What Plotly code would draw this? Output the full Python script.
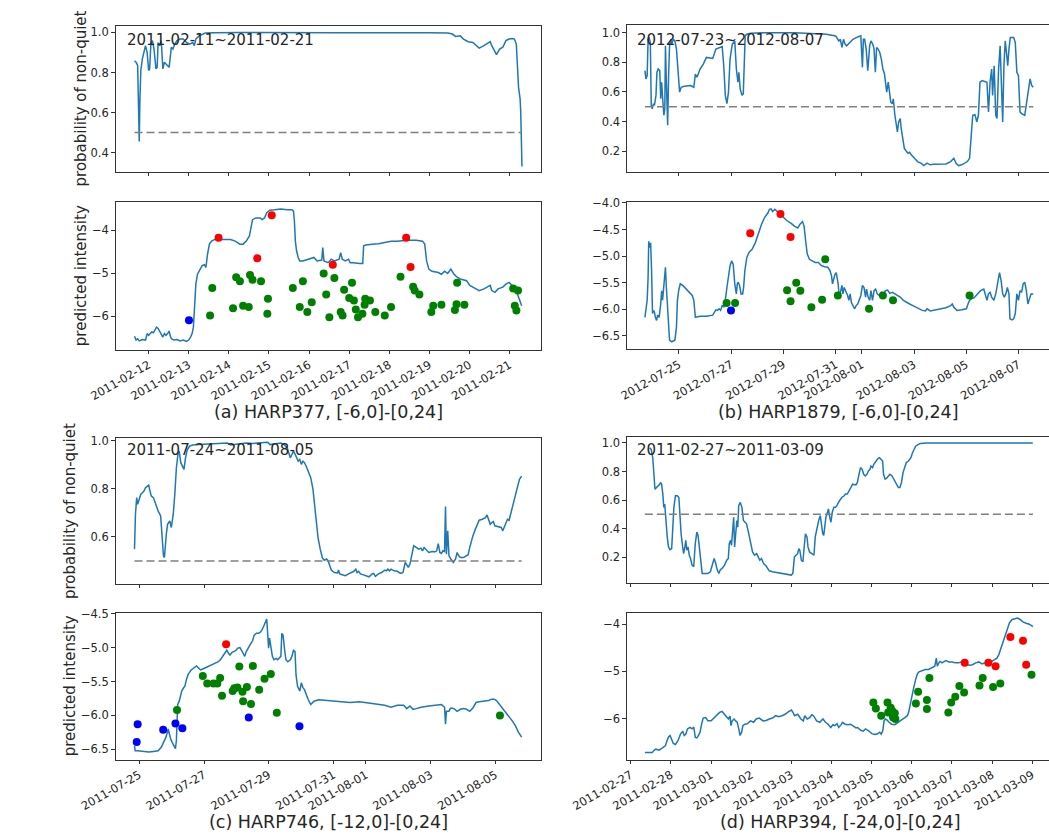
import pandas as pd
import plotly.graph_objects as go

FONT = "DejaVu Sans"
LINE_COLOR = "#1f77b4"
TEXT = "#262626"
AXIS = "#333333"

# ---------------- (a) HARP377 ----------------
a_start = "2011-02-11"
a_range_label = "2011-02-11~2011-02-21"
a_caption = "(a) HARP377, [-6,0]-[0,24]"
# (days since start, probability of non-quiet)
a_prob = [
    (0.647, 0.859), (0.686, 0.851), (0.725, 0.835), (0.749, 0.661), (0.765, 0.455),
    (0.780, 0.653), (0.804, 0.810), (0.843, 0.868), (0.882, 0.909), (0.921, 0.934),
    (0.961, 0.901), (1.000, 0.810), (1.024, 0.818), (1.055, 0.942), (1.094, 0.959),
    (1.133, 0.917), (1.181, 0.818), (1.212, 0.826), (1.235, 0.950), (1.275, 0.934),
    (1.314, 0.959), (1.353, 0.818), (1.392, 0.851), (1.432, 0.843), (1.471, 0.835),
    (1.510, 0.826), (1.534, 0.868), (1.565, 0.926), (1.604, 0.917), (1.651, 0.942),
    (1.706, 0.959), (1.785, 0.967), (1.863, 0.967), (1.942, 0.950), (2.020, 0.942),
    (2.099, 0.950), (2.138, 0.934), (2.177, 0.967), (2.256, 0.983), (2.413, 0.997),
    (2.648, 0.999), (3.276, 1.000), (5.631, 0.999), (7.206, 1.000), (7.986, 0.999),
    (8.457, 0.997), (8.575, 0.992), (8.653, 0.980), (8.771, 0.983), (8.850, 0.967),
    (8.967, 0.954), (9.085, 0.950), (9.242, 0.922), (9.360, 0.934), (9.517, 0.954),
    (9.556, 0.934), (9.674, 0.889), (9.752, 0.917), (9.831, 0.926), (9.909, 0.959),
    (9.988, 0.967), (10.066, 0.970), (10.121, 0.967), (10.168, 0.942), (10.223, 0.727),
    (10.262, 0.669), (10.278, 0.603), (10.309, 0.331),
]
# (days since start, predicted intensity)
a_int = [
    (0.647, -6.46), (0.686, -6.55), (0.725, -6.52), (0.765, -6.57), (0.843, -6.54),
    (0.921, -6.55), (0.961, -6.40), (1.000, -6.44), (1.039, -6.40), (1.078, -6.36),
    (1.118, -6.38), (1.157, -6.32), (1.196, -6.25), (1.235, -6.28), (1.275, -6.36),
    (1.314, -6.44), (1.353, -6.48), (1.392, -6.40), (1.432, -6.44), (1.471, -6.40),
    (1.510, -6.34), (1.534, -6.44), (1.565, -6.52), (1.628, -6.55), (1.706, -6.54),
    (1.785, -6.57), (1.863, -6.55), (1.942, -6.58), (1.997, -6.55), (2.044, -6.48),
    (2.083, -6.40), (2.115, -6.25), (2.146, -5.71), (2.177, -5.25), (2.217, -5.02),
    (2.271, -4.92), (2.334, -4.82), (2.389, -4.80), (2.428, -4.86), (2.468, -4.55),
    (2.515, -4.32), (2.570, -4.25), (2.648, -4.21), (2.727, -4.21), (2.884, -4.21),
    (3.041, -4.21), (3.158, -4.25), (3.276, -4.32), (3.355, -4.32), (3.433, -4.25),
    (3.512, -4.13), (3.590, -3.75), (3.669, -3.71), (3.786, -3.71), (3.826, -3.75),
    (3.889, -3.71), (3.944, -3.59), (4.022, -3.53), (4.140, -3.52), (4.297, -3.50),
    (4.454, -3.52), (4.571, -3.52), (4.611, -3.55), (4.634, -3.78), (4.658, -4.25),
    (4.689, -4.48), (4.728, -4.63), (4.768, -4.71), (4.846, -4.71), (5.003, -4.67),
    (5.121, -4.63), (5.199, -4.71), (5.317, -4.69), (5.341, -4.40), (5.372, -4.71),
    (5.474, -4.75), (5.553, -4.67), (5.631, -4.71), (5.749, -4.67), (5.788, -4.52),
    (5.827, -4.67), (5.906, -4.71), (5.984, -4.67), (6.024, -4.75), (6.102, -4.75),
    (6.259, -4.77), (6.338, -4.77), (6.361, -4.36), (6.416, -4.34), (6.573, -4.32),
    (6.730, -4.31), (6.887, -4.28), (7.044, -4.25), (7.201, -4.25), (7.436, -4.23),
    (7.672, -4.23), (7.829, -4.25), (7.884, -4.32), (7.931, -4.71), (7.986, -4.90),
    (8.064, -4.95), (8.221, -4.98), (8.300, -5.02), (8.378, -4.95), (8.457, -5.00),
    (8.535, -4.90), (8.614, -5.02), (8.692, -5.09), (8.771, -5.13), (8.928, -5.17),
    (9.007, -5.28), (9.163, -5.36), (9.242, -5.40), (9.360, -5.36), (9.438, -5.32),
    (9.517, -5.28), (9.556, -5.40), (9.635, -5.44), (9.713, -5.36), (9.831, -5.32),
    (9.909, -5.25), (9.988, -5.21), (10.066, -5.28), (10.144, -5.36), (10.223, -5.55),
    (10.301, -5.75),
]
a_red = [(2.743, -4.17), (4.069, -3.65), (3.708, -4.65), (5.592, -4.80), (7.421, -4.17), (7.531, -4.85)]
a_blue = [(2.005, -6.09)]
a_green = [
    (2.586, -5.34), (2.531, -5.98), (3.182, -5.09), (3.276, -5.18), (3.104, -5.81),
    (3.355, -5.75), (3.496, -5.78), (3.527, -5.04), (3.590, -5.15), (3.802, -5.18),
    (3.975, -5.59), (3.959, -5.94), (4.595, -5.34), (4.846, -5.18), (4.768, -5.78),
    (4.956, -5.90), (5.066, -5.67), (5.364, -5.00), (5.427, -5.49), (5.631, -5.11),
    (5.506, -6.02), (5.788, -5.90), (5.835, -5.98), (5.874, -5.38), (6.071, -5.22),
    (6.000, -5.57), (6.118, -5.63), (6.165, -5.84), (6.220, -6.02), (6.330, -5.94),
    (6.400, -5.59), (6.518, -5.63), (6.385, -5.73), (6.652, -5.90), (6.887, -5.98),
    (7.044, -5.78), (7.280, -5.08), (7.594, -5.31), (7.633, -5.40), (7.751, -5.49),
    (8.049, -5.90), (8.096, -5.75), (8.300, -5.73), (8.637, -5.85), (8.677, -5.72),
    (8.692, -5.22), (8.873, -5.73), (10.09, -5.35), (10.21, -5.40), (10.13, -5.75),
    (10.17, -5.86),
]
a_xticks = ["2011-02-%02d" % d for d in range(12, 22)]

# ---------------- (b) HARP1879 ----------------
b_start = "2012-07-23"
b_range_label = "2012-07-23~2012-08-07"
b_caption = "(b) HARP1879, [-6,0]-[0,24]"
b_prob = [
    (0.696, 0.744), (0.733, 0.688), (0.781, 0.710), (0.817, 0.955), (0.853, 0.970),
    (0.902, 0.933), (0.938, 0.510), (0.974, 0.487), (1.022, 0.521), (1.059, 0.510),
    (1.119, 0.577), (1.155, 0.733), (1.204, 0.755), (1.264, 0.744), (1.300, 0.554),
    (1.336, 0.666), (1.384, 0.532), (1.421, 0.443), (1.457, 0.487), (1.481, 0.911),
    (1.517, 0.666), (1.566, 0.376), (1.602, 0.710), (1.638, 0.911), (1.686, 0.955),
    (1.722, 0.922), (1.783, 0.955), (1.843, 0.944), (1.903, 0.889), (1.964, 0.733),
    (2.024, 0.599), (2.084, 0.632), (2.205, 0.639), (2.447, 0.643), (2.567, 0.632),
    (2.627, 0.721), (2.688, 0.699), (2.808, 0.755), (2.930, 0.788), (3.050, 0.833),
    (3.171, 0.828), (3.292, 0.826), (3.412, 0.889), (3.533, 0.900), (3.654, 0.906),
    (3.714, 0.777), (3.774, 0.577), (3.835, 0.521), (3.895, 0.599), (3.955, 0.822),
    (4.040, 0.922), (4.136, 0.944), (4.197, 0.755), (4.257, 0.666), (4.293, 0.733),
    (4.342, 0.621), (4.414, 0.577), (4.462, 0.588), (4.498, 0.755), (4.535, 0.978),
    (4.595, 0.989), (4.740, 0.996), (5.223, 1.000), (6.430, 1.000), (7.637, 0.989),
    (7.999, 0.978), (8.120, 0.944), (8.180, 0.955), (8.240, 0.900), (8.301, 0.955),
    (8.361, 0.922), (8.421, 0.911), (8.542, 0.933), (8.663, 0.955), (8.844, 0.971),
    (8.964, 0.978), (8.989, 0.889), (9.025, 0.766), (9.061, 0.955), (9.109, 0.955),
    (9.170, 0.889), (9.230, 0.744), (9.302, 0.911), (9.351, 0.944), (9.423, 0.922),
    (9.471, 0.889), (9.520, 0.733), (9.568, 0.900), (9.628, 0.889), (9.689, 0.866),
    (9.749, 0.822), (9.809, 0.755), (9.870, 0.721), (9.906, 0.666), (9.954, 0.599),
    (10.014, 0.666), (10.051, 0.621), (10.111, 0.532), (10.171, 0.521), (10.207, 0.554),
    (10.268, 0.443), (10.316, 0.376), (10.364, 0.331), (10.413, 0.398), (10.473, 0.421),
    (10.509, 0.354), (10.558, 0.287), (10.630, 0.220), (10.715, 0.198), (10.775, 0.187),
    (10.835, 0.193), (10.895, 0.176), (11.016, 0.153), (11.137, 0.131), (11.258, 0.120),
    (11.378, 0.104), (11.499, 0.120), (11.620, 0.109), (11.740, 0.113), (11.982, 0.115),
    (12.223, 0.115), (12.405, 0.131), (12.525, 0.153), (12.610, 0.120), (12.706, 0.104),
    (12.827, 0.109), (12.948, 0.120), (13.044, 0.131), (13.128, 0.153), (13.189, 0.287),
    (13.249, 0.443), (13.334, 0.447), (13.406, 0.398), (13.467, 0.443), (13.527, 0.666),
    (13.611, 0.677), (13.732, 0.670), (13.793, 0.666), (13.853, 0.465), (13.913, 0.666),
    (13.974, 0.755), (14.010, 0.577), (14.070, 0.777), (14.131, 0.443), (14.179, 0.421),
    (14.239, 0.755), (14.299, 0.911), (14.348, 0.554), (14.396, 0.398), (14.444, 0.777),
    (14.493, 0.944), (14.541, 0.866), (14.589, 0.777), (14.637, 0.889), (14.686, 0.967),
    (14.818, 0.967), (14.879, 0.933), (14.939, 0.733), (15.000, 0.710), (15.060, 0.465),
    (15.120, 0.454), (15.241, 0.443), (15.302, 0.510), (15.386, 0.621), (15.446, 0.688),
    (15.507, 0.643), (15.567, 0.632),
]
b_int = [
    (0.696, -6.15), (0.733, -5.96), (0.781, -5.83), (0.817, -5.40), (0.841, -4.72),
    (0.878, -4.84), (0.914, -4.75), (0.950, -5.27), (0.986, -6.08), (1.022, -6.02),
    (1.059, -6.05), (1.095, -6.15), (1.143, -6.21), (1.179, -6.11), (1.240, -6.15),
    (1.300, -5.90), (1.336, -5.65), (1.372, -5.83), (1.421, -5.52), (1.457, -5.24),
    (1.481, -5.21), (1.517, -5.59), (1.554, -5.96), (1.602, -6.33), (1.638, -6.58),
    (1.722, -6.61), (1.843, -6.58), (1.903, -6.33), (1.940, -5.83), (1.988, -5.65),
    (2.048, -5.52), (2.145, -5.55), (2.265, -5.62), (2.386, -5.68), (2.507, -5.74),
    (2.567, -5.83), (2.603, -6.08), (2.627, -6.15), (2.808, -6.13), (3.050, -6.13),
    (3.292, -6.11), (3.412, -6.01), (3.473, -6.02), (3.533, -5.99), (3.593, -6.02),
    (3.654, -5.93), (3.714, -5.95), (3.774, -5.83), (3.835, -5.59), (3.895, -5.34),
    (3.955, -5.18), (4.016, -5.09), (4.076, -5.15), (4.136, -5.52), (4.197, -5.71),
    (4.233, -5.52), (4.269, -5.49), (4.318, -5.55), (4.378, -5.71), (4.438, -5.71),
    (4.474, -5.59), (4.523, -5.27), (4.595, -5.03), (4.680, -4.93), (4.800, -4.87),
    (4.921, -4.75), (5.042, -4.56), (5.162, -4.40), (5.283, -4.27), (5.404, -4.19),
    (5.464, -4.12), (5.525, -4.11), (5.585, -4.16), (5.670, -4.12), (5.766, -4.16),
    (5.886, -4.22), (6.007, -4.28), (6.128, -4.33), (6.309, -4.39), (6.430, -4.44),
    (6.550, -4.47), (6.635, -4.40), (6.731, -4.35), (6.792, -4.44), (6.852, -4.72),
    (6.912, -4.96), (6.997, -5.06), (7.093, -5.09), (7.214, -5.12), (7.335, -5.12),
    (7.456, -5.18), (7.576, -5.20), (7.697, -5.21), (7.782, -5.27), (7.842, -5.37),
    (7.878, -5.52), (7.939, -5.40), (7.975, -5.34), (8.023, -5.31), (8.059, -5.40),
    (8.095, -5.52), (8.132, -5.74), (8.180, -5.68), (8.240, -5.55), (8.276, -5.71),
    (8.325, -5.59), (8.385, -5.65), (8.458, -5.74), (8.506, -5.83), (8.554, -5.71),
    (8.602, -5.87), (8.663, -5.93), (8.723, -5.99), (8.784, -5.93), (8.844, -5.90),
    (8.964, -5.74), (9.025, -5.55), (9.085, -5.59), (9.145, -5.77), (9.182, -5.62),
    (9.242, -5.77), (9.302, -5.83), (9.351, -5.65), (9.411, -5.83), (9.471, -5.65),
    (9.532, -5.62), (9.592, -5.71), (9.664, -5.74), (9.749, -5.68), (9.833, -5.71),
    (9.906, -5.65), (9.990, -5.64), (10.075, -5.70), (10.171, -5.68), (10.268, -5.71),
    (10.352, -5.74), (10.473, -5.77), (10.594, -5.83), (10.715, -5.87), (10.835, -5.90),
    (10.956, -5.93), (11.077, -5.96), (11.197, -5.99), (11.318, -6.02), (11.439, -6.03),
    (11.499, -5.99), (11.620, -6.03), (11.801, -6.01), (11.982, -5.99), (12.223, -5.97),
    (12.405, -5.93), (12.465, -5.90), (12.525, -5.96), (12.646, -6.02), (12.827, -6.01),
    (13.008, -5.99), (13.068, -5.90), (13.128, -5.83), (13.213, -5.80), (13.309, -5.78),
    (13.430, -5.71), (13.551, -5.65), (13.672, -5.62), (13.732, -5.71), (13.793, -5.83),
    (13.853, -5.71), (13.913, -5.68), (13.974, -5.77), (14.058, -5.83), (14.131, -5.71),
    (14.203, -5.52), (14.275, -5.31), (14.336, -5.46), (14.396, -5.71), (14.457, -5.77),
    (14.517, -5.71), (14.577, -5.59), (14.637, -5.71), (14.674, -6.18), (14.758, -6.20),
    (14.818, -6.18), (14.879, -6.08), (14.939, -5.71), (15.000, -5.83), (15.060, -5.65),
    (15.120, -5.68), (15.181, -5.52), (15.241, -5.49), (15.302, -5.65), (15.362, -5.90),
    (15.422, -5.80), (15.483, -5.71), (15.567, -5.71),
]
b_red = [(4.728, -4.57), (5.886, -4.21), (6.272, -4.64)]
b_blue = [(3.991, -6.02)]
b_green = [
    (3.823, -5.88), (4.149, -5.88), (6.140, -5.64), (6.490, -5.50), (6.647, -5.65),
    (6.272, -5.85), (7.070, -5.96), (7.480, -5.82), (7.601, -5.06), (8.083, -5.74),
    (9.278, -5.99), (9.809, -5.74), (10.195, -5.83), (13.128, -5.74),
]
b_xticks = ["2012-07-25", "2012-07-27", "2012-07-29", "2012-07-31",
            "2012-08-01", "2012-08-03", "2012-08-05", "2012-08-07"]

# ---------------- (c) HARP746 ----------------
c_start = "2011-07-24"
c_range_label = "2011-07-24~2011-08-05"
c_caption = "(c) HARP746, [-12,0]-[0,24]"
c_prob = [
    (0.854, 0.549), (0.883, 0.694), (0.922, 0.763), (0.951, 0.735), (1.000, 0.756),
    (1.049, 0.777), (1.097, 0.783), (1.146, 0.790), (1.194, 0.804), (1.243, 0.811),
    (1.292, 0.815), (1.321, 0.797), (1.369, 0.770), (1.437, 0.763), (1.486, 0.742),
    (1.583, 0.708), (1.661, 0.687), (1.700, 0.611), (1.748, 0.521), (1.778, 0.514),
    (1.797, 0.556), (1.836, 0.611), (1.875, 0.652), (1.943, 0.666), (1.991, 0.639),
    (2.050, 0.694), (2.098, 0.777), (2.147, 0.887), (2.195, 0.942), (2.234, 0.956),
    (2.283, 0.908), (2.341, 0.887), (2.380, 0.880), (2.429, 0.928), (2.477, 0.959),
    (2.555, 0.977), (2.652, 0.981), (2.847, 0.983), (3.138, 0.986), (3.429, 0.986),
    (3.721, 0.990), (3.818, 0.981), (3.915, 0.983), (4.110, 0.986), (4.304, 0.990),
    (4.498, 0.988), (4.790, 0.990), (4.887, 0.992), (4.965, 0.993), (5.033, 0.983),
    (5.179, 0.986), (5.373, 0.990), (5.470, 0.983), (5.568, 0.970), (5.616, 0.949),
    (5.665, 0.928), (5.713, 0.942), (5.762, 0.956), (5.840, 0.935), (5.908, 0.914),
    (5.956, 0.921), (6.005, 0.901), (6.053, 0.914), (6.102, 0.908), (6.151, 0.894),
    (6.228, 0.866), (6.296, 0.846), (6.364, 0.797), (6.423, 0.721), (6.471, 0.652),
    (6.520, 0.597), (6.588, 0.549), (6.656, 0.512), (6.714, 0.503), (6.782, 0.508),
    (6.831, 0.501), (6.879, 0.480), (6.928, 0.462), (7.025, 0.452), (7.122, 0.450),
    (7.151, 0.462), (7.190, 0.446), (7.268, 0.443), (7.365, 0.439), (7.462, 0.446),
    (7.560, 0.452), (7.628, 0.457), (7.686, 0.466), (7.725, 0.452), (7.773, 0.457),
    (7.832, 0.446), (7.900, 0.443), (7.997, 0.439), (8.094, 0.434), (8.191, 0.446),
    (8.240, 0.448), (8.289, 0.436), (8.386, 0.446), (8.483, 0.452), (8.580, 0.462),
    (8.629, 0.459), (8.677, 0.466), (8.726, 0.459), (8.774, 0.466), (8.872, 0.459),
    (8.969, 0.457), (9.066, 0.448), (9.144, 0.452), (9.212, 0.494), (9.260, 0.480),
    (9.309, 0.473), (9.358, 0.487), (9.435, 0.542), (9.474, 0.563), (9.552, 0.556),
    (9.630, 0.549), (9.698, 0.553), (9.746, 0.542), (9.795, 0.556), (9.844, 0.549),
    (9.892, 0.542), (9.941, 0.535), (10.038, 0.539), (10.135, 0.538), (10.184, 0.542),
    (10.232, 0.572), (10.281, 0.535), (10.329, 0.531), (10.378, 0.542), (10.427, 0.539),
    (10.456, 0.726), (10.485, 0.528), (10.524, 0.625), (10.563, 0.521), (10.621, 0.508),
    (10.699, 0.494), (10.767, 0.508), (10.815, 0.535), (10.864, 0.521), (10.912, 0.514),
    (11.010, 0.514), (11.107, 0.521), (11.155, 0.526), (11.204, 0.556), (11.253, 0.583),
    (11.301, 0.604), (11.379, 0.632), (11.447, 0.659), (11.496, 0.669), (11.593, 0.673),
    (11.690, 0.680), (11.738, 0.691), (11.787, 0.673), (11.836, 0.652), (11.884, 0.659),
    (11.933, 0.663), (11.981, 0.646), (12.079, 0.643), (12.176, 0.639), (12.224, 0.625),
    (12.273, 0.639), (12.321, 0.652), (12.370, 0.673), (12.419, 0.669), (12.467, 0.694),
    (12.516, 0.721), (12.584, 0.763), (12.662, 0.804), (12.739, 0.839), (12.807, 0.852),
]
c_int = [
    (0.854, -6.45), (0.874, -6.52), (0.951, -6.52), (1.097, -6.53), (1.194, -6.53),
    (1.292, -6.54), (1.437, -6.53), (1.583, -6.52), (1.680, -6.47), (1.758, -6.40),
    (1.826, -6.32), (1.894, -6.20), (1.933, -6.30), (1.972, -6.35), (2.020, -6.40),
    (2.069, -6.45), (2.118, -6.49), (2.147, -6.37), (2.186, -5.84), (2.234, -5.79),
    (2.273, -5.69), (2.312, -5.64), (2.360, -5.60), (2.409, -5.57), (2.458, -5.47),
    (2.506, -5.40), (2.603, -5.33), (2.701, -5.29), (2.769, -5.27), (2.827, -5.30),
    (2.895, -5.33), (2.944, -5.32), (3.041, -5.30), (3.138, -5.28), (3.235, -5.25),
    (3.333, -5.23), (3.430, -5.21), (3.507, -5.18), (3.575, -5.13), (3.643, -5.07),
    (3.702, -5.04), (3.750, -5.08), (3.799, -5.11), (3.867, -5.07), (3.964, -5.05),
    (4.042, -5.01), (4.110, -5.00), (4.158, -5.04), (4.207, -5.08), (4.256, -5.13),
    (4.304, -5.06), (4.353, -5.01), (4.421, -4.96), (4.499, -4.90), (4.547, -4.82),
    (4.615, -4.79), (4.693, -4.79), (4.741, -4.77), (4.790, -4.74), (4.839, -4.69),
    (4.887, -4.63), (4.936, -4.58), (4.965, -4.79), (4.994, -5.01), (5.023, -4.86),
    (5.062, -4.99), (5.111, -5.13), (5.159, -5.18), (5.227, -5.16), (5.276, -5.18),
    (5.324, -5.16), (5.373, -5.13), (5.402, -4.79), (5.441, -4.82), (5.490, -5.04),
    (5.529, -5.18), (5.587, -5.21), (5.665, -5.18), (5.713, -5.13), (5.762, -5.04),
    (5.810, -5.06), (5.840, -5.40), (5.888, -5.57), (5.956, -5.64), (6.005, -5.52),
    (6.053, -5.59), (6.102, -5.62), (6.151, -5.69), (6.219, -5.77), (6.296, -5.84),
    (6.394, -5.79), (6.539, -5.77), (6.734, -5.78), (7.025, -5.79), (7.220, -5.80),
    (7.511, -5.81), (7.803, -5.80), (7.997, -5.81), (8.289, -5.83), (8.580, -5.85),
    (8.774, -5.88), (8.969, -5.85), (9.163, -5.85), (9.260, -5.90), (9.358, -5.86),
    (9.455, -5.91), (9.552, -5.90), (9.698, -5.88), (9.941, -5.86), (10.135, -5.85),
    (10.329, -5.84), (10.427, -5.88), (10.456, -6.13), (10.485, -5.94), (10.524, -5.94),
    (10.563, -5.94), (10.601, -5.90), (10.640, -5.89), (10.718, -5.90), (10.815, -5.94),
    (10.912, -5.91), (11.010, -5.90), (11.107, -5.91), (11.204, -5.94), (11.301, -5.89),
    (11.398, -5.81), (11.496, -5.80), (11.641, -5.79), (11.787, -5.78), (11.884, -5.76),
    (11.962, -5.76), (12.030, -5.78), (12.127, -5.84), (12.224, -5.90), (12.321, -5.95),
    (12.419, -6.01), (12.516, -6.08), (12.613, -6.15), (12.710, -6.25), (12.807, -6.32),
]
c_red = [(3.682, -4.95)]
c_blue = [(0.951, -6.13), (0.922, -6.39), (1.739, -6.21), (2.118, -6.12),
          (2.331, -6.19), (4.382, -6.03), (5.947, -6.16)]
c_green = [
    (2.166, -5.92), (2.963, -5.42), (3.099, -5.53), (3.293, -5.53), (3.410, -5.53),
    (3.498, -5.45), (3.556, -5.71), (3.886, -5.64), (3.935, -5.60), (4.032, -5.59),
    (4.188, -5.65), (4.324, -5.58), (4.090, -5.28), (4.508, -5.27), (4.207, -5.79),
    (4.450, -5.83), (4.703, -5.62), (4.868, -5.46), (5.062, -5.39), (5.247, -5.96),
    (12.137, -6.00),
]
c_xticks = ["2011-07-25", "2011-07-27", "2011-07-29", "2011-07-31",
            "2011-08-01", "2011-08-03", "2011-08-05"]

# ---------------- (d) HARP394 ----------------
d_start = "2011-02-27"
d_range_label = "2011-02-27~2011-03-09"
d_caption = "(d) HARP394, [-24,0]-[0,24]"
d_prob = [
    (0.471, 0.965), (0.510, 0.954), (0.549, 0.896), (0.573, 0.757), (0.604, 0.676),
    (0.643, 0.688), (0.690, 0.699), (0.722, 0.711), (0.745, 0.723), (0.769, 0.711),
    (0.800, 0.642), (0.824, 0.549), (0.847, 0.572), (0.863, 0.503), (0.886, 0.364),
    (0.910, 0.341), (0.941, 0.272), (0.980, 0.253), (1.020, 0.260), (1.043, 0.410),
    (1.075, 0.549), (1.114, 0.630), (1.161, 0.630), (1.200, 0.618), (1.224, 0.503),
    (1.255, 0.364), (1.294, 0.272), (1.318, 0.225), (1.349, 0.272), (1.373, 0.318),
    (1.396, 0.249), (1.427, 0.272), (1.459, 0.214), (1.490, 0.191), (1.529, 0.145),
    (1.569, 0.133), (1.608, 0.295), (1.647, 0.376), (1.678, 0.353), (1.710, 0.272),
    (1.741, 0.156), (1.780, 0.087), (1.843, 0.087), (1.922, 0.087), (1.984, 0.098),
    (2.039, 0.156), (2.078, 0.191), (2.118, 0.156), (2.157, 0.110), (2.196, 0.087),
    (2.235, 0.114), (2.275, 0.121), (2.337, 0.145), (2.392, 0.179), (2.431, 0.191),
    (2.455, 0.295), (2.486, 0.318), (2.510, 0.283), (2.541, 0.376), (2.565, 0.480),
    (2.588, 0.272), (2.612, 0.341), (2.643, 0.457), (2.667, 0.410), (2.690, 0.561),
    (2.729, 0.584), (2.769, 0.549), (2.808, 0.457), (2.847, 0.445), (2.886, 0.434),
    (2.941, 0.364), (2.996, 0.295), (3.035, 0.237), (3.082, 0.214), (3.137, 0.225),
    (3.176, 0.202), (3.216, 0.179), (3.255, 0.191), (3.310, 0.156), (3.373, 0.138),
    (3.451, 0.105), (3.529, 0.098), (3.608, 0.094), (3.686, 0.094), (3.765, 0.087),
    (3.843, 0.087), (3.922, 0.082), (4.000, 0.075), (4.039, 0.087), (4.078, 0.202),
    (4.118, 0.214), (4.157, 0.225), (4.188, 0.260), (4.212, 0.249), (4.251, 0.179),
    (4.290, 0.168), (4.314, 0.249), (4.353, 0.364), (4.392, 0.341), (4.416, 0.272),
    (4.455, 0.237), (4.510, 0.225), (4.565, 0.214), (4.596, 0.341), (4.643, 0.410),
    (4.682, 0.457), (4.722, 0.491), (4.761, 0.410), (4.784, 0.364), (4.808, 0.353),
    (4.831, 0.410), (4.863, 0.480), (4.902, 0.514), (4.925, 0.538), (4.957, 0.480),
    (4.988, 0.445), (5.020, 0.514), (5.059, 0.549), (5.098, 0.549), (5.137, 0.561),
    (5.176, 0.584), (5.216, 0.607), (5.255, 0.618), (5.318, 0.630), (5.349, 0.642),
    (5.396, 0.642), (5.435, 0.665), (5.490, 0.699), (5.529, 0.711), (5.608, 0.706),
    (5.647, 0.723), (5.686, 0.780), (5.725, 0.827), (5.765, 0.815), (5.804, 0.780),
    (5.843, 0.769), (5.882, 0.780), (5.922, 0.803), (5.961, 0.815), (5.984, 0.838),
    (6.024, 0.827), (6.055, 0.850), (6.102, 0.873), (6.157, 0.891), (6.196, 0.896),
    (6.235, 0.884), (6.275, 0.873), (6.298, 0.780), (6.337, 0.746), (6.376, 0.753),
    (6.416, 0.769), (6.455, 0.780), (6.510, 0.769), (6.573, 0.734), (6.627, 0.706),
    (6.667, 0.688), (6.706, 0.688), (6.745, 0.723), (6.784, 0.792), (6.824, 0.838),
    (6.863, 0.861), (6.918, 0.873), (6.980, 0.896), (7.020, 0.931), (7.059, 0.954),
    (7.098, 0.977), (7.153, 0.988), (7.216, 0.995), (7.373, 1.000), (8.000, 0.999),
    (8.784, 1.000), (9.569, 0.999), (10.016, 1.000),
]
d_int = [
    (0.353, -6.72), (0.471, -6.73), (0.534, -6.72), (0.589, -6.67), (0.628, -6.65),
    (0.706, -6.67), (0.785, -6.62), (0.863, -6.58), (0.903, -6.47), (0.942, -6.39),
    (0.981, -6.36), (1.020, -6.44), (1.060, -6.53), (1.115, -6.55), (1.177, -6.47),
    (1.240, -6.33), (1.295, -6.27), (1.334, -6.36), (1.374, -6.33), (1.413, -6.22),
    (1.476, -6.19), (1.531, -6.22), (1.570, -6.18), (1.609, -6.40), (1.648, -6.41),
    (1.688, -6.36), (1.727, -6.29), (1.766, -6.12), (1.805, -5.99), (1.868, -5.98),
    (1.923, -6.05), (2.002, -6.05), (2.080, -5.99), (2.159, -5.92), (2.214, -5.87),
    (2.276, -5.85), (2.339, -5.91), (2.394, -5.95), (2.433, -6.01), (2.473, -5.95),
    (2.496, -6.15), (2.527, -6.05), (2.575, -6.01), (2.614, -6.05), (2.653, -6.08),
    (2.692, -6.22), (2.724, -6.36), (2.763, -6.29), (2.794, -6.15), (2.841, -6.12),
    (2.904, -6.11), (2.983, -6.05), (3.061, -6.08), (3.124, -6.01), (3.203, -5.99),
    (3.297, -6.05), (3.375, -6.04), (3.454, -6.01), (3.532, -5.99), (3.611, -5.94),
    (3.689, -5.96), (3.768, -5.94), (3.846, -5.91), (3.925, -5.86), (4.003, -5.82),
    (4.042, -5.87), (4.082, -5.94), (4.160, -5.91), (4.239, -6.01), (4.301, -6.05),
    (4.333, -5.94), (4.396, -6.01), (4.458, -5.98), (4.513, -5.92), (4.553, -5.94),
    (4.631, -6.05), (4.710, -6.08), (4.788, -6.01), (4.851, -6.08), (4.906, -6.11),
    (4.984, -6.19), (5.039, -6.13), (5.086, -6.15), (5.141, -6.11), (5.181, -6.19),
    (5.243, -6.13), (5.275, -6.08), (5.338, -6.12), (5.416, -6.13), (5.479, -6.12),
    (5.534, -6.15), (5.612, -6.20), (5.651, -6.19), (5.730, -6.25), (5.793, -6.27),
    (5.848, -6.22), (5.926, -6.26), (6.005, -6.32), (6.083, -6.34), (6.138, -6.33),
    (6.201, -6.29), (6.240, -6.33), (6.279, -6.26), (6.311, -6.05), (6.342, -6.01),
    (6.381, -6.03), (6.436, -6.08), (6.499, -6.12), (6.578, -6.13), (6.672, -6.08),
    (6.750, -6.04), (6.829, -5.98), (6.892, -5.94), (6.923, -5.87), (6.947, -5.77),
    (6.986, -5.59), (7.049, -5.35), (7.104, -5.15), (7.143, -5.05), (7.182, -5.01),
    (7.261, -4.98), (7.339, -4.96), (7.418, -4.96), (7.496, -4.93), (7.575, -4.89),
    (7.614, -4.72), (7.637, -4.89), (7.677, -4.82), (7.708, -4.79), (7.755, -4.82),
    (7.810, -4.79), (7.849, -4.77), (7.928, -4.80), (8.006, -4.80), (8.085, -4.82),
    (8.163, -4.82), (8.242, -4.80), (8.320, -4.80), (8.383, -4.86), (8.438, -4.87),
    (8.516, -4.86), (8.595, -4.82), (8.673, -4.80), (8.752, -4.84), (8.830, -4.82),
    (8.909, -4.80), (8.987, -4.79), (9.066, -4.75), (9.121, -4.72), (9.168, -4.65),
    (9.223, -4.51), (9.278, -4.36), (9.325, -4.22), (9.380, -4.08), (9.435, -3.97),
    (9.500, -3.90), (9.560, -3.88), (9.640, -3.87), (9.700, -3.90), (9.770, -3.95),
    (9.850, -3.98), (9.930, -4.00), (10.020, -4.05),
]
d_red = [(8.320, -4.82), (8.909, -4.82), (9.089, -4.89), (9.458, -4.27), (9.772, -4.35), (9.851, -4.86)]
d_blue = []
d_green = [
    (6.044, -5.66), (6.107, -5.79), (6.240, -5.94), (6.397, -5.66), (6.476, -5.77),
    (6.413, -5.87), (6.515, -5.84), (6.531, -5.94), (6.578, -5.89), (6.593, -6.01),
    (6.538, -5.98), (7.104, -5.68), (7.159, -5.43), (7.378, -5.61), (7.378, -5.80),
    (7.441, -5.14), (7.912, -5.87), (7.983, -5.66), (8.085, -5.54), (8.187, -5.31),
    (8.305, -5.45), (8.689, -5.30), (8.768, -5.14), (9.027, -5.33), (9.207, -5.26),
    (9.984, -5.07),
]
d_xticks = ["2011-02-27", "2011-02-28"] + ["2011-03-%02d" % d for d in range(1, 10)]

THRESHOLD = 0.5

W, H = 1049, 834


def px_x(v):
    return v / W


def px_y(v):
    return 1 - v / H


def when(start, days):
    return pd.Timestamp(start) + pd.to_timedelta(list(days), unit="D")


def split(pairs):
    return [p[0] for p in pairs], [p[1] for p in pairs]


def tick_text(values, fmt):
    # typographic minus sign, as in the printed figure
    return [format(v, fmt).replace("-", "\u2212") for v in values]


panels = [
    dict(start=a_start, label=a_range_label, caption=a_caption, prob=a_prob, inten=a_int,
         red=a_red, blue=a_blue, green=a_green, xticks=a_xticks,
         xr=(0.176, 10.788), xdom=(62, 512), rows=((20, 167), (197, 346)),
         ytop=(0.304, 1.033), ytop_ticks=[0.4, 0.6, 0.8, 1.0],
         ybot=(-6.77, -3.33), ybot_ticks=[-6, -5, -4], ybot_fmt=".0f",
         left=True, title_x=25, label_xy=(71.7, 34), cap_xy=(287, 409)),
    dict(start=b_start, label=b_range_label, caption=b_caption, prob=b_prob, inten=b_int,
         red=b_red, blue=b_blue, green=b_green, xticks=b_xticks,
         xr=(0.007, 16.17), xdom=(602.7, W), rows=((19.5, 166.7), (197.3, 345.7)),
         ytop=(0.064, 1.049), ytop_ticks=[0.2, 0.4, 0.6, 0.8, 1.0],
         ybot=(-6.75, -3.98), ybot_ticks=[-6.5, -6.0, -5.5, -5.0, -4.5, -4.0], ybot_fmt=".1f",
         left=False, title_x=None, label_xy=(611.7, 34), cap_xy=(826, 409)),
    dict(start=c_start, label=c_range_label, caption=c_caption, prob=c_prob, inten=c_int,
         red=c_red, blue=c_blue, green=c_green, xticks=c_xticks,
         xr=(0.271, 13.41), xdom=(62, 512), rows=((435, 582), (611, 759)),
         ytop=(0.405, 1.011), ytop_ticks=[0.6, 0.8, 1.0],
         ybot=(-6.65, -4.485), ybot_ticks=[-6.5, -6.0, -5.5, -5.0, -4.5], ybot_fmt=".1f",
         left=True, title_x=14, label_xy=(71.7, 447.7), cap_xy=(287, 822)),
    dict(start=d_start, label=d_range_label, caption=d_caption, prob=d_prob, inten=d_int,
         red=d_red, blue=d_blue, green=d_green, xticks=d_xticks,
         xr=(-0.094, 10.42), xdom=(602.7, W), rows=((434.3, 581), (611, 759)),
         ytop=(0.021, 1.04), ytop_ticks=[0.2, 0.4, 0.6, 0.8, 1.0],
         ybot=(-6.87, -3.754), ybot_ticks=[-6, -5, -4], ybot_fmt=".0f",
         left=False, title_x=None, label_xy=(611.7, 447.7), cap_xy=(828, 822)),
]

fig = go.Figure()
layout = {}
annotations = []

tick_font = dict(family=FONT, size=11.5, color=TEXT)

for i, p in enumerate(panels):
    top_n, bot_n = 2 * i + 1, 2 * i + 2
    xt = "x" if top_n == 1 else "x%d" % top_n
    yt = "y" if top_n == 1 else "y%d" % top_n
    xb, yb = "x%d" % bot_n, "y%d" % bot_n

    xrange = [str(t) for t in when(p["start"], p["xr"])]
    xdom = [px_x(p["xdom"][0]), min(1.0, px_x(p["xdom"][1]))]
    (t0, t1), (b0, b1) = p["rows"]

    common_x = dict(domain=xdom, range=xrange, type="date", showgrid=False, zeroline=False,
                    showline=True, linecolor=AXIS, linewidth=1, mirror=True,
                    ticks="outside", ticklen=3.5, tickwidth=1, tickcolor=AXIS,
                    tickvals=p["xticks"], tickformat="%Y-%m-%d", tickfont=tick_font)
    common_y = dict(showgrid=False, zeroline=False, showline=True, linecolor=AXIS,
                    linewidth=1, mirror=p["left"], ticks="outside", ticklen=3.5,
                    tickwidth=1, tickcolor=AXIS, tickfont=tick_font)

    layout["xaxis" if top_n == 1 else "xaxis%d" % top_n] = dict(
        common_x, anchor=yt, showticklabels=False)
    layout["xaxis%d" % bot_n] = dict(common_x, anchor=yb, tickangle=-30)
    layout["yaxis" if top_n == 1 else "yaxis%d" % top_n] = dict(
        common_y, anchor=xt, domain=[px_y(t1), px_y(t0)], range=list(p["ytop"]),
        tickvals=p["ytop_ticks"], ticktext=tick_text(p["ytop_ticks"], ".1f"))
    layout["yaxis%d" % bot_n] = dict(
        common_y, anchor=xb, domain=[px_y(b1), px_y(b0)], range=list(p["ybot"]),
        tickvals=p["ybot_ticks"], ticktext=tick_text(p["ybot_ticks"], p["ybot_fmt"]))

    # probability curve and decision threshold
    pd_days, pv = split(p["prob"])
    fig.add_trace(go.Scatter(x=when(p["start"], pd_days), y=pv, mode="lines",
                             line=dict(color=LINE_COLOR, width=1.5),
                             xaxis=xt, yaxis=yt, showlegend=False))
    id_days, iv = split(p["inten"])
    fig.add_trace(go.Scatter(x=when(p["start"], [id_days[0], id_days[-1]]),
                             y=[THRESHOLD, THRESHOLD], mode="lines",
                             line=dict(color="#808080", width=1.5, dash="8px,4px"),
                             xaxis=xt, yaxis=yt, showlegend=False))

    # predicted intensity with flare events
    fig.add_trace(go.Scatter(x=when(p["start"], id_days), y=iv, mode="lines",
                             line=dict(color=LINE_COLOR, width=1.5),
                             xaxis=xb, yaxis=yb, showlegend=False))
    for key, color in (("green", "green"), ("blue", "blue"), ("red", "red")):
        if not p[key]:
            continue
        ed, ev = split(p[key])
        fig.add_trace(go.Scatter(x=when(p["start"], ed), y=ev, mode="markers",
                                 marker=dict(color=color, size=8, line=dict(width=0)),
                                 xaxis=xb, yaxis=yb, showlegend=False))

    lx, ly = p["label_xy"]
    annotations.append(dict(text=p["label"], x=px_x(lx), y=px_y(ly), xref="paper", yref="paper",
                            xanchor="left", yanchor="middle", showarrow=False,
                            font=dict(family=FONT, size=15, color=TEXT)))
    cx, cy = p["cap_xy"]
    annotations.append(dict(text=p["caption"], x=px_x(cx), y=px_y(cy), xref="paper", yref="paper",
                            xanchor="center", yanchor="middle", showarrow=False,
                            font=dict(family=FONT, size=17.5, color=TEXT)))
    if p["left"]:
        tx = p["title_x"]
        annotations.append(dict(text="probability of non-quiet", x=px_x(tx), y=px_y((t0 + t1) / 2),
                                xref="paper", yref="paper", xanchor="center", yanchor="middle",
                                textangle=-90, showarrow=False,
                                font=dict(family=FONT, size=15, color=TEXT)))
        annotations.append(dict(text="predicted intensity", x=px_x(tx), y=px_y((b0 + b1) / 2),
                                xref="paper", yref="paper", xanchor="center", yanchor="middle",
                                textangle=-90, showarrow=False,
                                font=dict(family=FONT, size=15, color=TEXT)))

fig.update_layout(
    width=W, height=H, autosize=False,
    margin=dict(l=0, r=0, t=0, b=0),
    paper_bgcolor="white", plot_bgcolor="white",
    font=dict(family=FONT, color=TEXT),
    annotations=annotations,
    **layout,
)

fig.write_html("out.html")
